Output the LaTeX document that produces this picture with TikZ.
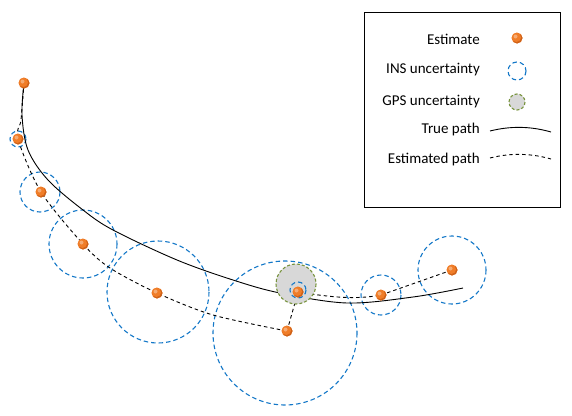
\documentclass[tikz,border=0pt]{standalone}
\usepackage{fontspec}
\setmainfont{Carlito}
\definecolor{insblue}{RGB}{20,120,200}
\definecolor{gpsgreen}{RGB}{119,147,60}
\definecolor{gpsfill}{RGB}{216,216,216}
\definecolor{dotorange}{RGB}{240,125,40}
\definecolor{dotdark}{RGB}{185,80,15}
\tikzset{
  insc/.style={draw=insblue, line width=1.1pt, dash pattern=on 4.5pt off 3pt},
  gpsc/.style={draw=gpsgreen, fill=gpsfill, line width=1.1pt, dash pattern=on 3pt off 2pt},
  est/.style={circle, inner sep=0pt, minimum size=11pt, fill=dotorange,
    path picture={\fill[dotdark!60!dotorange] ([xshift=1.2pt,yshift=-1.2pt]path picture bounding box.center) circle (5.5pt);
      \fill[dotorange] ([xshift=-0.6pt,yshift=0.6pt]path picture bounding box.center) circle (4.6pt);
      \fill[white!35!dotorange] ([xshift=-1.5pt,yshift=1.5pt]path picture bounding box.center) circle (2pt);}},
  truep/.style={draw=black, line width=0.9pt},
  estp/.style={draw=black, line width=0.9pt, dash pattern=on 3.5pt off 3pt},
  lbl/.style={anchor=east, font=\fontsize{15}{17}\selectfont, inner sep=0pt}
}
\begin{document}
\begin{tikzpicture}[x=1pt,y=-1pt]
\useasboundingbox (0,0) rectangle (572,415);
% INS uncertainty circles
\draw[insc] (18,139) circle (8);
\draw[insc] (40,192) circle (20);
\draw[insc] (83,244) circle (34);
\draw[insc] (158,292) circle (51);
\draw[insc] (285,333) circle (72);
\draw[insc] (381,295) circle (20);
\draw[insc] (452,270) circle (34);
% positions
\coordinate (p1) at (24,83);
\coordinate (p2) at (18,139);
\coordinate (p3) at (41,192);
\coordinate (p4) at (83,244);
\coordinate (p5) at (157,293);
\coordinate (p6) at (287,331);
\coordinate (p7) at (298,292);
\coordinate (p8) at (381,295);
\coordinate (p9) at (452,270);
% true path
\draw[truep] plot[smooth, tension=0.55] coordinates {(24,83) (22,115) (28,150) (48,180) (83,210) (113,230) (177,260) (233,280) (280,293) (347,303) (413,297) (463,288)};
% estimated path
\draw[estp] plot[smooth, tension=0.5] coordinates {(24,83) (21,120) (18,139) (41,192) (83,244) (110,268) (157,293) (213,315) (287,331)};
\draw[estp] (p6) -- (p7);
\draw[estp] (p7) .. controls (330,297) and (355,300) .. (p8);
\draw[estp] (p8) -- (p9);
% GPS uncertainty
\draw[gpsc] (296,284) circle (20);
\draw[insc] (298,290) circle (8);
% estimates
\foreach \p in {p1,p2,p3,p4,p5,p6,p7,p8,p9} \node[est] (n\p) at (\p) {};
% legend
\draw[line width=1pt] (364,12) rectangle (560,207);
\node[lbl] (l1) at (480,39) {Estimate};
\node[lbl] (l2) at (480,70) {INS uncertainty};
\node[lbl] (l3) at (480,102) {GPS uncertainty};
\node[lbl] (l4) at (480,129) {True path};
\node[lbl] (l5) at (480,159) {Estimated path};
\node[est] (i1) at (517,38) {};
\draw[insc] (517,71) circle (9);
\draw[gpsc] (517,102) circle (8);
\draw[truep] (490,131) .. controls (510,126) and (530,126) .. (551,132);
\draw[estp] (490,158) .. controls (510,153) and (530,153) .. (551,159);
\end{tikzpicture}
\end{document}
